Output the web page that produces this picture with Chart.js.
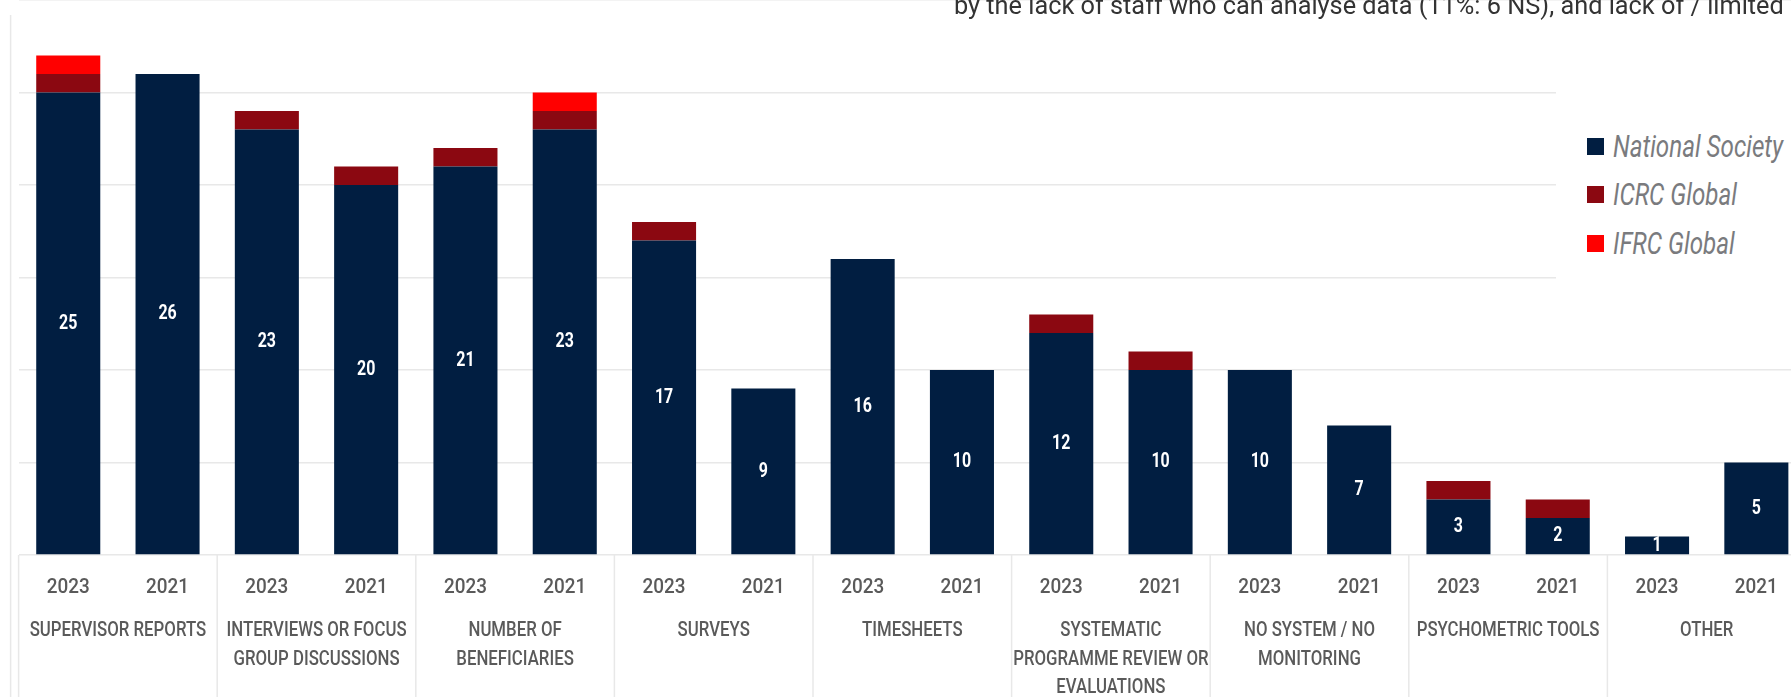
<!DOCTYPE html>
<html>
<head>
<meta charset="utf-8">
<script src="https://cdn.jsdelivr.net/npm/chart.js@4.4.1/dist/chart.umd.min.js"></script>
<style>
  html, body { margin: 0; padding: 0; background: #fff; overflow: hidden; }
  #wrap { position: relative; width: 1806px; height: 697px; }
  #intro {
    position: absolute; left: 954px; top: -10px; white-space: nowrap;
    font-family: Roboto, sans-serif; font-size: 26.5px; color: #333; line-height: 30px;
    transform: scaleX(0.955); transform-origin: left top;
  }
  #legend {
    position: absolute; left: 1556px; top: 82px; width: 250px; height: 208px;
    background: #fff; padding-top: 40px; box-sizing: border-box;
  }
  .item { display: flex; align-items: center; height: 48.5px; padding-left: 31px; white-space: nowrap; }
  .swatch { width: 17px; height: 17px; margin-right: 9px; flex: none; }
  .name {
    font-family: Roboto, sans-serif; font-style: italic; font-size: 31px; color: #7a7b7e;
    display: inline-block; transform: scaleX(0.78); transform-origin: left center;
  }
</style>
</head>
<body>
<div id="wrap">
  <canvas id="chart"></canvas>
  <div id="intro">by the lack of staff who can analyse data (11%: 6 NS), and lack of / limited</div>
  <div id="legend"></div>
</div>
<script>
  // monitoring methods, two survey rounds each
  const categories = [
    ['SUPERVISOR REPORTS'],
    ['INTERVIEWS OR FOCUS', 'GROUP DISCUSSIONS'],
    ['NUMBER OF', 'BENEFICIARIES'],
    ['SURVEYS'],
    ['TIMESHEETS'],
    ['SYSTEMATIC', 'PROGRAMME REVIEW OR', 'EVALUATIONS'],
    ['NO SYSTEM / NO', 'MONITORING'],
    ['PSYCHOMETRIC TOOLS'],
    ['OTHER']
  ];
  const years = ['2023', '2021'];
  const nationalSociety = [25, 26, 23, 20, 21, 23, 17, 9, 16, 10, 12, 10, 10, 7, 3, 2, 1, 5];
  const icrcGlobal      = [1, 0, 1, 1, 1, 1, 1, 0, 0, 0, 1, 1, 0, 0, 1, 1, 0, 0];
  const ifrcGlobal      = [1, 0, 0, 0, 0, 1, 0, 0, 0, 0, 0, 0, 0, 0, 0, 0, 0, 0];

  const NAVY = '#011e41';
  const MAROON = '#8b0811';
  const RED = '#ff0000';
  const LABEL_GREY = '#5a5a5a';
  const LINE_GREY = '#e8e8e8';
  const FONT = 'Roboto, sans-serif';

  const xLabels = categories.flatMap(() => years);

  // condensed-looking text: squeeze horizontally around the anchor
  function narrowText(ctx, text, x, y, sx) {
    ctx.save();
    ctx.translate(x, y);
    ctx.scale(sx, 1);
    ctx.fillText(text, 0, 0);
    ctx.restore();
  }

  // bar values in the navy segment, year ticks, group names and separators under the axis
  const decorations = {
    id: 'decorations',
    afterDatasetsDraw(chart) {
      const { ctx } = chart;
      const meta = chart.getDatasetMeta(0);
      ctx.save();
      ctx.fillStyle = '#fff';
      ctx.font = `bold 21px ${FONT}`;
      ctx.textAlign = 'center';
      ctx.textBaseline = 'middle';
      meta.data.forEach((bar, i) => {
        narrowText(ctx, String(nationalSociety[i]), bar.x, (bar.y + bar.base) / 2, 0.76);
      });
      ctx.restore();
    },
    afterDraw(chart) {
      const { ctx, chartArea, scales } = chart;
      const x = scales.x;
      const H = chart.height;
      ctx.save();
      ctx.strokeStyle = LINE_GREY;
      ctx.lineWidth = 1.5;
      // left frame line
      ctx.beginPath();
      ctx.moveTo(chartArea.left - 8, 15);
      ctx.lineTo(chartArea.left - 8, H);
      ctx.stroke();
      const half = (x.getPixelForValue(1) - x.getPixelForValue(0)) / 2;
      categories.forEach((lines, g) => {
        const left = x.getPixelForValue(g * 2) - half;
        ctx.beginPath();
        ctx.moveTo(left, chartArea.bottom);
        ctx.lineTo(left, H);
        ctx.stroke();
      });
      ctx.fillStyle = LABEL_GREY;
      ctx.font = `500 21px ${FONT}`;
      ctx.textAlign = 'center';
      ctx.textBaseline = 'middle';
      xLabels.forEach((t, i) => narrowText(ctx, t, x.getPixelForValue(i), chartArea.bottom + 33, 0.9));
      categories.forEach((lines, g) => {
        const cx = (x.getPixelForValue(g * 2) + x.getPixelForValue(g * 2 + 1)) / 2;
        lines.forEach((t, k) => narrowText(ctx, t, cx, chartArea.bottom + 76 + k * 28.5, 0.8));
      });
      ctx.restore();
    }
  };

  const chart = new Chart(document.getElementById('chart'), {
    type: 'bar',
    data: {
      labels: xLabels,
      datasets: [
        { label: 'National Society', data: nationalSociety, backgroundColor: NAVY },
        { label: 'ICRC Global', data: icrcGlobal, backgroundColor: MAROON },
        { label: 'IFRC Global', data: ifrcGlobal, backgroundColor: RED }
      ]
    },
    options: {
      responsive: true,
      maintainAspectRatio: false,
      animation: false,
      layout: { padding: 0 },
      datasets: { bar: { categoryPercentage: 1, barPercentage: 0.645 } },
      plugins: { legend: { display: false }, tooltip: { enabled: false } },
      scales: {
        x: {
          stacked: true,
          grid: { display: false, drawTicks: false },
          border: { display: false },
          ticks: { display: false },
          afterFit(s) { s.height = 142; }
        },
        y: {
          stacked: true,
          min: 0, max: 30,
          ticks: { display: false, stepSize: 5 },
          grid: { color: LINE_GREY, lineWidth: 1.5, drawTicks: false },
          border: { display: false },
          afterFit(s) { s.width = 18.6; }
        }
      }
    },
    plugins: [decorations]
  });

  // legend built from the datasets
  const legend = document.getElementById('legend');
  chart.data.datasets.forEach(ds => {
    const row = document.createElement('div');
    row.className = 'item';
    row.innerHTML = `<span class="swatch" style="background:${ds.backgroundColor}"></span><span class="name">${ds.label}</span>`;
    legend.appendChild(row);
  });
</script>
</body>
</html>
